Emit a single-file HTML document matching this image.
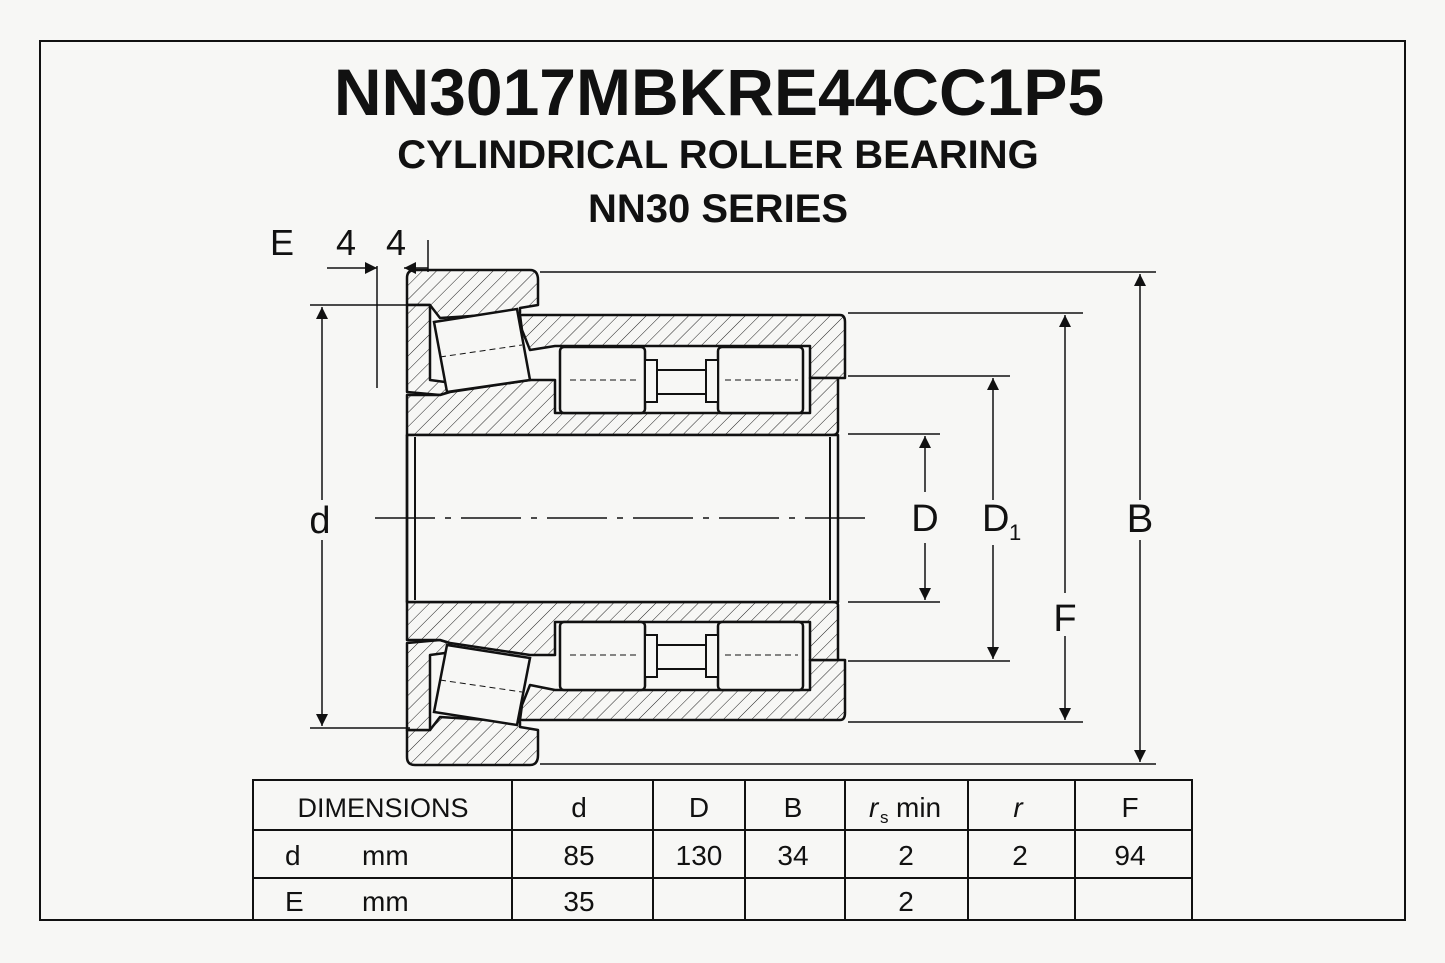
<!DOCTYPE html>
<html><head><meta charset="utf-8"><style>
html,body{margin:0;padding:0;background:#f7f7f5;}
svg{display:block;}
text{font-family:"Liberation Sans",Arial,sans-serif;fill:#111;}
</style></head><body>
<svg width="1445" height="963" viewBox="0 0 1445 963" xmlns="http://www.w3.org/2000/svg">
<defs>
<pattern id="h" patternUnits="userSpaceOnUse" width="10" height="10" patternTransform="rotate(45)">
<rect width="10" height="10" fill="#f7f7f5"/><line x1="0" y1="0" x2="0" y2="10" stroke="#222" stroke-width="1"/>
</pattern>
<marker id="b" viewBox="0 0 10 10" refX="10" refY="5" markerWidth="24" markerHeight="12" markerUnits="userSpaceOnUse" orient="auto-start-reverse"><path d="M0,0L10,5L0,10z" fill="#111"/></marker>
</defs>
<rect x="40" y="41" width="1365" height="879" fill="none" stroke="#111" stroke-width="2"/>
<text x="719" y="115" font-size="66" font-weight="bold" text-anchor="middle">NN3017MBKRE44CC1P5</text>
<text x="718" y="168" font-size="40" font-weight="bold" text-anchor="middle">CYLINDRICAL ROLLER BEARING</text>
<text x="718" y="222" font-size="40" font-weight="bold" text-anchor="middle">NN30 SERIES</text>

<g stroke="#111" stroke-width="2.5" stroke-linejoin="round">
<path d="M407,278 Q407,270 415,270 L530,270 Q538,270 538,280 L538,305 L520,308 L520,313 L440,318 L430,305 L407,305 Z" fill="url(#h)"/>
<path d="M407,305 L430,305 L430,380 L445,382 L450,392 L440,395 L407,392 Z" fill="url(#h)"/>
<path d="M407,757 Q407,765 415,765 L530,765 Q538,765 538,755 L538,730 L520,727 L520,722 L440,717 L430,730 L407,730 Z" fill="url(#h)"/>
<path d="M407,730 L430,730 L430,655 L445,653 L450,643 L440,640 L407,643 Z" fill="url(#h)"/>
<path d="M520,315 L840,315 Q845,315 845,322 L845,378 L810,378 L810,346 L555,346 L530,350 L522,330 Z" fill="url(#h)"/>
<path d="M520,720 L840,720 Q845,720 845,713 L845,660 L810,660 L810,690 L555,690 L530,685 L522,705 Z" fill="url(#h)"/>
<path d="M407,395 L440,395 L450,392 L530,380 L555,380 L555,413 L810,413 L810,378 L838,378 L838,430 Q838,435 832,435 L407,435 Z" fill="url(#h)"/>
<path d="M407,640 L440,640 L450,643 L530,655 L555,655 L555,622 L810,622 L810,660 L838,660 L838,605 Q838,602 832,602 L407,602 Z" fill="url(#h)"/>
<rect x="407" y="435" width="431" height="167" fill="#f7f7f5"/>
</g>
<g stroke="#111" stroke-width="2" fill="#f7f7f5">
<line x1="415" y1="437" x2="415" y2="600"/><line x1="830" y1="437" x2="830" y2="600"/>
<line x1="407" y1="435" x2="407" y2="602" stroke-width="2.5"/><line x1="838" y1="435" x2="838" y2="602"/>
<polygon points="434,322 517,309 530,380 447,392" stroke-width="2.5"/>
<polygon points="447,645 530,658 517,725 434,712" stroke-width="2.5"/>
<rect x="560" y="347" width="85" height="66" rx="4" stroke-width="2.5"/>
<rect x="718" y="347" width="85" height="66" rx="4" stroke-width="2.5"/>
<rect x="645" y="360" width="12" height="42"/><rect x="706" y="360" width="12" height="42"/>
<rect x="657" y="370" width="49" height="24"/>
<rect x="560" y="622" width="85" height="68" rx="4" stroke-width="2.5"/>
<rect x="718" y="622" width="85" height="68" rx="4" stroke-width="2.5"/>
<rect x="645" y="635" width="12" height="42"/><rect x="706" y="635" width="12" height="42"/>
<rect x="657" y="645" width="49" height="24"/>
</g>
<g stroke="#111" stroke-width="1" stroke-dasharray="6,4" fill="none">
<line x1="440" y1="357" x2="522" y2="345"/><line x1="440" y1="680" x2="522" y2="692"/>
<line x1="570" y1="380" x2="640" y2="380"/><line x1="725" y1="380" x2="798" y2="380"/>
<line x1="570" y1="655" x2="640" y2="655"/><line x1="725" y1="655" x2="798" y2="655"/>
</g>
<line x1="375" y1="518" x2="875" y2="518" stroke="#111" stroke-width="1.5" stroke-dasharray="60,10,6,10"/>

<g stroke="#111" stroke-width="1.5" fill="none">
<line x1="540" y1="272" x2="1156" y2="272"/><line x1="540" y1="764" x2="1156" y2="764"/>
<line x1="848" y1="313" x2="1083" y2="313"/><line x1="848" y1="722" x2="1083" y2="722"/>
<line x1="848" y1="376" x2="1010" y2="376"/><line x1="848" y1="661" x2="1010" y2="661"/>
<line x1="848" y1="434" x2="940" y2="434"/><line x1="848" y1="602" x2="940" y2="602"/>
<line x1="310" y1="305" x2="410" y2="305"/><line x1="310" y1="728" x2="410" y2="728"/>
<line x1="1140" y1="500" x2="1140" y2="274" marker-end="url(#b)"/><line x1="1140" y1="540" x2="1140" y2="762" marker-end="url(#b)"/>
<line x1="1065" y1="593" x2="1065" y2="315" marker-end="url(#b)"/><line x1="1065" y1="636" x2="1065" y2="720" marker-end="url(#b)"/>
<line x1="993" y1="500" x2="993" y2="378" marker-end="url(#b)"/><line x1="993" y1="545" x2="993" y2="659" marker-end="url(#b)"/>
<line x1="925" y1="492" x2="925" y2="436" marker-end="url(#b)"/><line x1="925" y1="543" x2="925" y2="600" marker-end="url(#b)"/>
<line x1="322" y1="500" x2="322" y2="307" marker-end="url(#b)"/><line x1="322" y1="540" x2="322" y2="726" marker-end="url(#b)"/>
<line x1="377" y1="266" x2="377" y2="388"/><line x1="428" y1="240" x2="428" y2="272"/>
<line x1="327" y1="268" x2="377" y2="268" marker-end="url(#b)"/><line x1="428" y1="268" x2="404" y2="268" marker-end="url(#b)"/>
</g>
<text x="270" y="255" font-size="36">E</text>
<text x="336" y="255" font-size="36">4</text>
<text x="386" y="255" font-size="36">4</text>
<text x="320" y="533" font-size="38" text-anchor="middle">d</text>
<text x="925" y="531" font-size="38" text-anchor="middle">D</text>
<text x="982" y="531" font-size="38">D</text><text x="1009" y="540" font-size="22">1</text>
<text x="1065" y="631" font-size="38" text-anchor="middle">F</text>
<text x="1140" y="532" font-size="40" text-anchor="middle">B</text>

<g stroke="#111" stroke-width="2" fill="none">
<rect x="253" y="780" width="939" height="140"/>
<line x1="253" y1="830" x2="1192" y2="830"/><line x1="253" y1="878" x2="1192" y2="878"/>
<line x1="512" y1="780" x2="512" y2="920"/><line x1="653" y1="780" x2="653" y2="920"/>
<line x1="745" y1="780" x2="745" y2="920"/><line x1="845" y1="780" x2="845" y2="920"/>
<line x1="968" y1="780" x2="968" y2="920"/><line x1="1075" y1="780" x2="1075" y2="920"/>
</g>
<g font-size="28">
<text x="383" y="817" text-anchor="middle" font-size="27">DIMENSIONS</text>
<text x="579" y="817" text-anchor="middle">d</text>
<text x="699" y="817" text-anchor="middle">D</text>
<text x="793" y="817" text-anchor="middle">B</text>
<text x="869" y="817" font-style="italic">r</text><text x="880" y="823" font-size="17">s</text><text x="896" y="817">min</text>
<text x="1018" y="817" text-anchor="middle" font-style="italic">r</text>
<text x="1130" y="817" text-anchor="middle">F</text>
<text x="285" y="865">d</text><text x="362" y="865">mm</text>
<text x="579" y="865" text-anchor="middle">85</text>
<text x="699" y="865" text-anchor="middle">130</text>
<text x="793" y="865" text-anchor="middle">34</text>
<text x="906" y="865" text-anchor="middle">2</text>
<text x="1020" y="865" text-anchor="middle">2</text>
<text x="1130" y="865" text-anchor="middle">94</text>
<text x="285" y="911">E</text><text x="362" y="911">mm</text>
<text x="579" y="911" text-anchor="middle">35</text>
<text x="906" y="911" text-anchor="middle">2</text>
</g>
</svg>
</body></html>
